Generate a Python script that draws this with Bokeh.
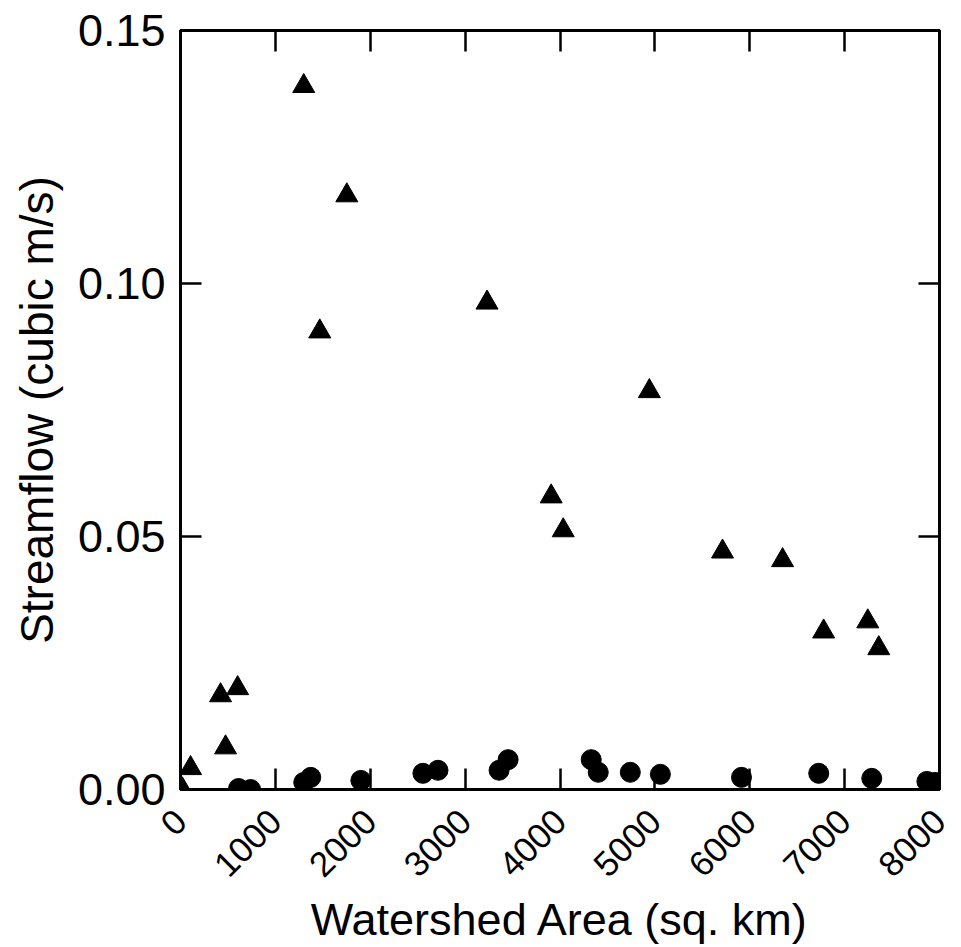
import math
from bokeh.plotting import figure
from bokeh.models import (FixedTicker, LinearAxis, Range1d, NumeralTickFormatter,
                          CustomJSTickFormatter)
from bokeh.embed import file_html
from bokeh.resources import INLINE

# Data
tri_area = [20, 106, 422, 475, 602, 1299, 1468, 1753, 3231, 3907, 4034, 4942,
            5713, 6346, 6779, 7244, 7360]
tri_flow = [0.000, 0.0042, 0.0186, 0.0083, 0.0200, 0.1390, 0.0905, 0.1174,
            0.0962, 0.0579, 0.0512, 0.0787, 0.0470, 0.0453, 0.0312, 0.0332, 0.0279]

circ_area = [612, 739, 1299, 1373, 1901, 2555, 2714, 3358, 3453, 4329, 4403,
             4741, 5058, 5913, 6727, 7286, 7867, 7951]
circ_flow = [0.0002, 0.0000, 0.0014, 0.0024, 0.0018, 0.0032, 0.0038, 0.0038,
             0.0059, 0.0059, 0.0034, 0.0034, 0.0030, 0.0024, 0.0032, 0.0022,
             0.0016, 0.0014]

x_ticks = [0, 1000, 2000, 3000, 4000, 5000, 6000, 7000, 8000]
y_ticks = [0.0, 0.05, 0.10, 0.15]
x_title = "Watershed Area (sq. km)"
y_title = "Streamflow (cubic m/s)"

p = figure(width=961, height=947, output_backend="svg", toolbar_location=None,
           x_range=Range1d(0, 8000), y_range=Range1d(0, 0.15),
           min_border_left=180, min_border_right=22, min_border_top=30,
           min_border_bottom=157, x_axis_location=None, y_axis_location=None)
p.background_fill_color = "white"
p.border_fill_color = "white"
p.grid.visible = False
p.outline_line_color = "black"
p.outline_line_width = 3

FONT = "Liberation Sans"

def style(ax, labels=True):
    ax.axis_line_width = 3
    ax.axis_line_color = "black"
    ax.major_tick_in = 21
    ax.major_tick_out = 0
    ax.major_tick_line_width = 2.5
    ax.minor_tick_line_color = None
    if labels:
        ax.major_label_text_font = FONT
        ax.major_label_text_color = "black"
    else:
        ax.formatter = CustomJSTickFormatter(code="return ''")
        ax.major_label_standoff = 0

xb = LinearAxis(ticker=FixedTicker(ticks=x_ticks))
style(xb)
xb.major_label_text_font_size = "35px"
xb.major_label_orientation = math.pi / 4
xb.major_label_standoff = 26
xb.axis_label = x_title
xb.axis_label_text_font = FONT
xb.axis_label_text_font_size = "45px"
xb.axis_label_text_font_style = "normal"
xb.axis_label_text_color = "black"
xb.axis_label_standoff = 3
p.add_layout(xb, "below")

yl = LinearAxis(ticker=FixedTicker(ticks=y_ticks),
                formatter=NumeralTickFormatter(format="0.00"))
style(yl)
yl.major_label_text_font_size = "45px"
yl.major_label_standoff = 15
yl.axis_label = y_title
yl.axis_label_text_font = FONT
yl.axis_label_text_font_size = "46px"
yl.axis_label_text_font_style = "normal"
yl.axis_label_text_color = "black"
yl.axis_label_standoff = 12
p.add_layout(yl, "left")

xt = LinearAxis(ticker=FixedTicker(ticks=x_ticks))
style(xt, labels=False)
p.add_layout(xt, "above")

yr = LinearAxis(ticker=FixedTicker(ticks=y_ticks))
style(yr, labels=False)
p.add_layout(yr, "right")

p.scatter(circ_area, circ_flow, marker="circle", size=20,
          fill_color="black", line_color="black")
p.scatter(tri_area, tri_flow, marker="triangle", size=22,
          fill_color="black", line_color="black")

open("out.html", "w").write(file_html(p, INLINE))
